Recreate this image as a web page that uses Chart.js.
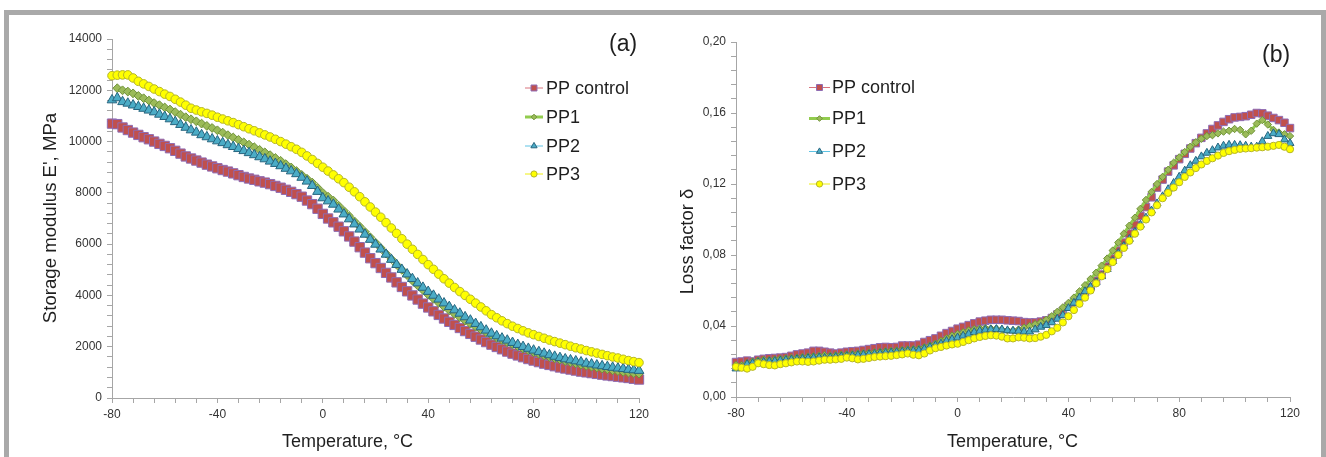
<!DOCTYPE html>
<html><head><meta charset="utf-8">
<script src="https://cdn.jsdelivr.net/npm/chart.js@4/dist/chart.umd.min.js"></script>
<style>
html,body{margin:0;padding:0;background:#fff;overflow:hidden;width:1326px;height:457px;}
#frame{position:absolute;left:4px;top:10px;width:1322px;height:520px;box-sizing:border-box;border:5px solid #A9A9A9;}
#ca{position:absolute;left:0;top:0;}
#cb{position:absolute;left:660px;top:0;}
</style></head><body>
<div id="frame"></div>
<canvas id="ca" width="660" height="457"></canvas>
<canvas id="cb" width="666" height="457"></canvas>
<script>
// ---------- data ----------
const seriesNames = ['PP control', 'PP1', 'PP2', 'PP3'];
const temps = [-80,-78,-76,-74,-72,-70,-68,-66,-64,-62,-60,-58,-56,-54,-52,-50,-48,-46,-44,-42,
 -40,-38,-36,-34,-32,-30,-28,-26,-24,-22,-20,-18,-16,-14,-12,-10,-8,-6,-4,-2,
 0,2,4,6,8,10,12,14,16,18,20,22,24,26,28,30,32,34,36,38,
 40,42,44,46,48,50,52,54,56,58,60,62,64,66,68,70,72,74,76,78,
 80,82,84,86,88,90,92,94,96,98,100,102,104,106,108,110,112,114,116,118,120];

const storageControl = [10700,10680,10550,10450,10350,10260,10170,10090,10000,9910,9830,9740,9640,9530,9420,9340,9260,9180,9100,9030,
 8960,8890,8830,8760,8690,8620,8560,8510,8450,8400,8340,8270,8200,8120,8040,7950,7850,7700,7560,7380,
 7180,7000,6850,6680,6500,6300,6100,5880,5670,5450,5260,5070,4880,4700,4510,4330,4160,4000,3840,3680,
 3530,3380,3240,3100,2970,2850,2730,2610,2500,2390,2280,2180,2080,1990,1900,1810,1730,1660,1590,1520,
 1460,1400,1340,1290,1240,1190,1150,1110,1070,1030,1000,970,940,910,880,855,830,805,780,750,720];
const storagePP1 = [null,12080,12000,11950,11880,11780,11690,11600,11500,11420,11330,11250,11150,11050,10950,10870,10790,10700,10610,10530,
 10440,10350,10250,10160,10070,9970,9880,9780,9680,9580,9470,9360,9250,9120,8990,8850,8700,8550,8400,8200,
 8000,7850,7700,7500,7300,7100,6890,6690,6480,6270,6060,5850,5630,5420,5200,5000,4790,4580,4390,4210,
 4030,3870,3710,3560,3420,3280,3150,3020,2900,2780,2670,2560,2450,2350,2260,2170,2090,2010,1930,1860,
 1790,1720,1660,1600,1550,1500,1440,1390,1350,1300,1260,1220,1190,1150,1120,1080,1050,1020,990,970,950];
const storagePP2 = [11620,11700,11550,11490,11420,11360,11290,11220,11150,11060,10970,10880,10770,10660,10550,10450,10360,10260,10180,10100,
 10020,9950,9870,9800,9720,9640,9560,9480,9400,9320,9230,9140,9050,8950,8850,8740,8600,8450,8280,8050,
 7800,7680,7550,7360,7170,6980,6780,6580,6380,6180,5990,5800,5600,5400,5200,5010,4830,4650,4480,4310,
 4150,4000,3850,3700,3560,3430,3300,3160,3030,2900,2770,2640,2520,2420,2330,2250,2160,2080,2000,1930,
 1860,1800,1740,1680,1620,1570,1520,1480,1440,1400,1350,1320,1280,1250,1220,1190,1160,1140,1110,1090,1070];
const storagePP3 = [12570,12590,12600,12600,12480,12350,12250,12150,12050,11950,11850,11760,11650,11540,11420,11300,11230,11160,11100,11030,
 10950,10880,10810,10740,10660,10580,10500,10420,10340,10260,10180,10090,10000,9900,9800,9700,9580,9440,9300,9150,
 9000,8850,8700,8550,8400,8220,8040,7850,7650,7450,7250,7050,6840,6630,6420,6210,6000,5800,5600,5400,
 5200,5020,4830,4650,4480,4310,4150,4000,3850,3700,3550,3400,3250,3130,3010,2900,2800,2710,2620,2540,
 2470,2400,2330,2260,2200,2140,2080,2020,1960,1910,1850,1800,1750,1700,1650,1600,1560,1510,1460,1420,1380];

const lossControl = [.0197,.0200,.0205,.0200,.0210,.0215,.0218,.0220,.0222,.0225,.0232,.0240,.0245,.0250,.0260,.0260,.0255,.0250,.0245,.0250,
 .0255,.0258,.0260,.0265,.0270,.0275,.0280,.0282,.0280,.0282,.0290,.0290,.0290,.0295,.0310,.0320,.0330,.0345,.0360,.0372,
 .0385,.0395,.0405,.0415,.0425,.0430,.0435,.0435,.0435,.0432,.0430,.0428,.0422,.0420,.0420,.0425,.0432,.0445,.0465,.0485,
 .0510,.0535,.0560,.0590,.0620,.0655,.0690,.0735,.0780,.0825,.0870,.0920,.0970,.1020,.1070,.1125,.1180,.1225,.1270,.1305,
 .1340,.1370,.1400,.1430,.1460,.1485,.1510,.1530,.1550,.1565,.1575,.1578,.1582,.1590,.1600,.1598,.1585,.1572,.1560,.1545,.1515];
const lossPP1 = [.0180,.0178,.0190,.0200,.0205,.0210,.0208,.0212,.0215,.0218,.0220,.0222,.0225,.0228,.0230,.0232,.0235,.0232,.0235,.0238,
 .0240,.0242,.0245,.0248,.0250,.0252,.0255,.0258,.0260,.0262,.0265,.0268,.0270,.0272,.0280,.0290,.0300,.0315,.0330,.0345,
 .0355,.0365,.0375,.0382,.0386,.0388,.0386,.0385,.0380,.0376,.0375,.0380,.0390,.0400,.0410,.0420,.0435,.0455,.0480,.0505,
 .0530,.0560,.0595,.0630,.0665,.0700,.0740,.0780,.0825,.0870,.0920,.0965,.1010,.1060,.1110,.1155,.1200,.1240,.1280,.1320,
 .1350,.1380,.1410,.1435,.1455,.1470,.1475,.1485,.1495,.1500,.1510,.1505,.1480,.1500,.1540,.1560,.1535,.1505,.1490,.1480,.1470];
const lossPP2 = [.0160,.0165,.0185,.0190,.0195,.0198,.0200,.0202,.0205,.0208,.0210,.0212,.0215,.0218,.0220,.0222,.0220,.0222,.0225,.0228,
 .0230,.0232,.0235,.0238,.0240,.0242,.0245,.0248,.0250,.0252,.0255,.0258,.0260,.0262,.0270,.0280,.0290,.0300,.0315,.0325,
 .0335,.0345,.0355,.0365,.0372,.0378,.0380,.0382,.0380,.0375,.0373,.0372,.0368,.0368,.0380,.0395,.0405,.0420,.0440,.0460,
 .0500,.0530,.0560,.0595,.0620,.0645,.0680,.0720,.0765,.0810,.0850,.0890,.0930,.0970,.1010,.1050,.1090,.1130,.1170,.1205,
 .1240,.1275,.1305,.1330,.1355,.1375,.1390,.1405,.1415,.1420,.1420,.1418,.1415,.1410,.1410,.1440,.1470,.1485,.1480,.1450,.1430];
const lossPP3 = [.0170,.0165,.0160,.0170,.0190,.0185,.0180,.0178,.0185,.0190,.0195,.0200,.0200,.0198,.0200,.0205,.0210,.0210,.0212,.0215,
 .0222,.0218,.0212,.0215,.0220,.0225,.0228,.0230,.0232,.0236,.0240,.0245,.0238,.0235,.0245,.0262,.0275,.0282,.0290,.0296,
 .0300,.0310,.0320,.0330,.0338,.0344,.0348,.0346,.0340,.0330,.0330,.0336,.0334,.0330,.0332,.0340,.0350,.0370,.0390,.0420,
 .0455,.0490,.0525,.0560,.0600,.0640,.0680,.0720,.0760,.0800,.0840,.0880,.0920,.0960,.1000,.1040,.1080,.1120,.1150,.1180,
 .1210,.1240,.1265,.1290,.1310,.1330,.1345,.1360,.1375,.1385,.1392,.1398,.1400,.1402,.1405,.1407,.1410,.1415,.1420,.1410,.1396];

const xTickLabels = ['-80', '-40', '0', '40', '80', '120'];
const yTickLabelsA = ['0', '2000', '4000', '6000', '8000', '10000', '12000', '14000'];
const yTickLabelsB = ['0,00', '0,04', '0,08', '0,12', '0,16', '0,20'];
const xTitle = 'Temperature, °C';
const yTitleA = "Storage modulus E', MPa";
const yTitleB = 'Loss factor δ';

// ---------- styles ----------
const FONT = '"Liberation Sans", Arial, Helvetica, sans-serif';
Chart.defaults.font.family = FONT;
const styles = [
  {ps:'rect',     bg:'#C0504D', bd:'#8E6BB4', line:'#D8737C', lw:1, rA:6.6, rB:5.3, rL:4.2},
  {ps:'rectRot',  bg:'#9BBB59', bd:'#6F9238', line:'#92CC4E', lw:3, rA:4.4, rB:3.7, rL:2.8},
  {ps:'triangle', bg:'#4BACC6', bd:'#26657F', line:'#5FC3E4', lw:1, rA:5.6, rB:4.6, rL:3.6},
  {ps:'circle',   bg:'#FFFF00', bd:'#B4B42A', line:'#EEEE10', lw:1, rA:4.3, rB:3.6, rL:3.1}
];

function toPoints(xs, ys) {
  return xs.map((t, i) => ({x: t, y: ys[i]})).filter(p => p.y !== null);
}
function buildDatasets(seriesList, key) {
  return seriesList.map((vals, i) => ({
    label: seriesNames[i],
    data: toPoints(temps, vals),
    pointStyle: styles[i].ps,
    pointRadius: styles[i][key],
    pointBackgroundColor: styles[i].bg,
    pointBorderColor: styles[i].bd,
    pointBorderWidth: 1,
    borderColor: styles[i].line,
    borderWidth: styles[i].lw,
    legendRadius: styles[i].rL,
    showLine: true,
    tension: 0,
    fill: false,
    clip: false,
    order: 4 - i
  }));
}

const legendPlugin = {
  id: 'customLegend',
  afterDraw(chart, args, opts) {
    const ctx = chart.ctx;
    ctx.save();
    chart.data.datasets.forEach((ds, i) => {
      const y = opts.ys[i];
      ctx.strokeStyle = ds.borderColor;
      ctx.lineWidth = ds.borderWidth;
      ctx.beginPath(); ctx.moveTo(opts.x, y); ctx.lineTo(opts.x + opts.len, y); ctx.stroke();
      ctx.fillStyle = ds.pointBackgroundColor;
      ctx.strokeStyle = ds.pointBorderColor;
      ctx.lineWidth = 1;
      Chart.helpers.drawPoint(ctx, {pointStyle: ds.pointStyle, radius: ds.legendRadius, rotation: 0, borderWidth: 1}, opts.x + opts.len / 2, y);
      ctx.fillStyle = '#1F1F1F';
      ctx.font = '18px ' + FONT;
      ctx.textAlign = 'left';
      ctx.textBaseline = 'middle';
      ctx.fillText(ds.label, opts.x + opts.len + opts.gap, y + 1);
    });
    ctx.restore();
  }
};
const textPlugin = {
  id: 'texts',
  afterDraw(chart, args, opts) {
    const ctx = chart.ctx;
    (opts.items || []).forEach(it => {
      ctx.save();
      ctx.fillStyle = '#1F1F1F';
      ctx.font = it.size + 'px ' + FONT;
      ctx.textAlign = it.align || 'center';
      ctx.textBaseline = 'alphabetic';
      ctx.translate(it.x, it.y);
      if (it.rot) ctx.rotate(it.rot);
      ctx.fillText(it.text, 0, 0);
      ctx.restore();
    });
  }
};

function axisOpts(min, max, step, labels, boxFit, isX) {
  return {
    type: 'linear', min: min, max: max,
    afterFit: boxFit,
    ticks: {
      stepSize: step, autoSkip: false, maxRotation: 0, minRotation: 0,
      color: '#333333', font: {size: 12}, padding: isX ? 4 : 5,
      callback: (v, i) => (i % 5 === 0 ? labels[i / 5] : '')
    },
    grid: {drawOnChartArea: false, drawTicks: true, tickLength: 5, color: '#A6A6A6', lineWidth: 1},
    border: {display: true, color: '#A6A6A6', width: 1},
    title: {display: false}
  };
}

new Chart(document.getElementById('ca'), {
  type: 'line',
  data: {datasets: buildDatasets([storageControl, storagePP1, storagePP2, storagePP3], 'rA')},
  options: {
    responsive: false, animation: false, devicePixelRatio: 1,
    layout: {padding: {left: 0, top: 39, right: 21, bottom: 0}},
    plugins: {
      legend: {display: false}, tooltip: {enabled: false},
      customLegend: {x: 525, len: 18, gap: 3, ys: [88, 117, 146, 174]},
      texts: {items: [
        {text: xTitle, x: 347.5, y: 447, size: 18},
        {text: yTitleA, x: 56, y: 218, size: 18.6, rot: -Math.PI / 2},
        {text: '(a)', x: 609, y: 50.5, size: 23, align: 'left'}
      ]}
    },
    scales: {
      x: axisOpts(-80, 120, 8, xTickLabels, s => { s.height = 59; }, true),
      y: axisOpts(0, 14000, 400, yTickLabelsA, s => { s.width = 112; }, false)
    }
  },
  plugins: [legendPlugin, textPlugin]
});

new Chart(document.getElementById('cb'), {
  type: 'line',
  data: {datasets: buildDatasets([lossControl, lossPP1, lossPP2, lossPP3], 'rB')},
  options: {
    responsive: false, animation: false, devicePixelRatio: 1,
    layout: {padding: {left: 0, top: 42, right: 36, bottom: 0}},
    plugins: {
      legend: {display: false}, tooltip: {enabled: false},
      customLegend: {x: 149, len: 21, gap: 2, ys: [87.5, 118.5, 151.5, 184]},
      texts: {items: [
        {text: xTitle, x: 352.5, y: 447, size: 18},
        {text: yTitleB, x: 33, y: 241.5, size: 18.4, rot: -Math.PI / 2},
        {text: '(b)', x: 602, y: 61.5, size: 23, align: 'left'}
      ]}
    },
    scales: {
      x: axisOpts(-80, 120, 8, xTickLabels, s => { s.height = 60; }, true),
      y: axisOpts(0, 0.2, 0.008, yTickLabelsB, s => { s.width = 76; }, false)
    }
  },
  plugins: [legendPlugin, textPlugin]
});
</script>
</body></html>
